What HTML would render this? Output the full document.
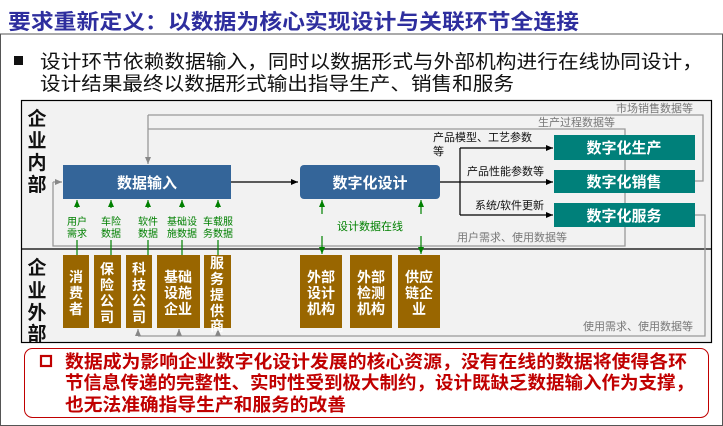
<!DOCTYPE html>
<html><head><meta charset="utf-8"><style>
body{margin:0;background:#fff;}
svg{display:block;font-family:"Liberation Sans","Noto Sans CJK SC",sans-serif;}
</style></head><body>
<svg width="723" height="426" viewBox="0 0 723 426" xmlns="http://www.w3.org/2000/svg">
<defs>
<marker id="ab" markerWidth="8" markerHeight="8" refX="7" refY="4" orient="auto" markerUnits="userSpaceOnUse"><path d="M0,1 L7,4 L0,7 z" fill="#000"/></marker>
<marker id="ag" markerWidth="8" markerHeight="8" refX="7" refY="4" orient="auto" markerUnits="userSpaceOnUse"><path d="M0,1 L7,4 L0,7 z" fill="#008000"/></marker>
<marker id="ay" markerWidth="8" markerHeight="8" refX="7" refY="4" orient="auto" markerUnits="userSpaceOnUse"><path d="M0,1 L7,4 L0,7 z" fill="#888"/></marker>
</defs>
<rect x="0.5" y="34" width="722" height="391.5" fill="none" stroke="#555" stroke-width="1"/>
<text x="8" y="29" font-size="21" font-weight="bold" fill="#2e2e9e" textLength="571" lengthAdjust="spacingAndGlyphs">要求重新定义：以数据为核心实现设计与关联环节全连接</text>
<rect x="14" y="56" width="9" height="9" fill="#111"/>
<text x="40" y="68" font-size="19" fill="#111" textLength="663" lengthAdjust="spacingAndGlyphs">设计环节依赖数据输入，同时以数据形式与外部机构进行在线协同设计，</text>
<text x="40" y="90" font-size="19" fill="#111" textLength="474" lengthAdjust="spacingAndGlyphs">设计结果最终以数据形式输出指导生产、销售和服务</text>

<rect x="21.5" y="100.5" width="690" height="242" fill="#f2f2f2" stroke="#000" stroke-width="1.2"/>
<line x1="21" y1="249" x2="711" y2="249" stroke="#000" stroke-width="1.2"/>
<g font-size="19" font-weight="bold" fill="#111" text-anchor="middle">
<text x="37" y="125">企</text><text x="37" y="147">业</text><text x="37" y="169">内</text><text x="37" y="191">部</text>
<text x="37" y="274">企</text><text x="37" y="297">业</text><text x="37" y="319">外</text><text x="37" y="340">部</text>
</g>

<g stroke="#999" stroke-width="1.3" fill="none">
<polyline points="695,181 703,181 703,115 148,115"/>
<line x1="148" y1="115" x2="148" y2="164" marker-end="url(#ay)"/>
<polyline points="148,129 625,129 625,246 53,246 53,182"/>
<line x1="53" y1="182" x2="62" y2="182" marker-end="url(#ay)"/>
<polyline points="695,215 705,215 705,336 138,336"/>
<line x1="138" y1="336" x2="138" y2="329" marker-end="url(#ay)"/>
<line x1="179" y1="336" x2="179" y2="329" marker-end="url(#ay)"/>
<line x1="218" y1="336" x2="218" y2="329" marker-end="url(#ay)"/>
</g>
<g font-size="11" fill="#777">
<text x="693" y="112" text-anchor="end">市场销售数据等</text>
<text x="615" y="126" text-anchor="end">生产过程数据等</text>
<text x="457" y="241">用户需求、使用数据等</text>
<text x="693" y="330" text-anchor="end">使用需求、使用数据等</text>
</g>

<rect x="63" y="165" width="168" height="34" fill="#346599"/>
<text x="147" y="188" font-size="15" font-weight="bold" fill="#fff" text-anchor="middle">数据输入</text>
<rect x="300" y="165" width="140" height="34" rx="4" fill="#346599"/>
<text x="370" y="188" font-size="15" font-weight="bold" fill="#fff" text-anchor="middle">数字化设计</text>
<line x1="231" y1="182" x2="298" y2="182" stroke="#000" stroke-width="1.2" marker-end="url(#ab)"/>

<g stroke="#000" stroke-width="1.2" fill="none">
<line x1="440" y1="182" x2="553" y2="182" marker-end="url(#ab)"/>
<line x1="460" y1="148" x2="460" y2="215"/>
<line x1="460" y1="148" x2="553" y2="148" marker-end="url(#ab)"/>
<line x1="460" y1="215" x2="553" y2="215" marker-end="url(#ab)"/>
</g>
<g font-size="11" fill="#111">
<text x="433" y="141">产品模型、工艺参数</text>
<text x="433" y="155">等</text>
<text x="467" y="175">产品性能参数等</text>
<text x="475" y="209">系统/软件更新</text>
</g>
<g fill="#00807a">
<rect x="554" y="135" width="141" height="25"/>
<rect x="554" y="170" width="141" height="23"/>
<rect x="554" y="203" width="141" height="24"/>
</g>
<g font-size="15" font-weight="bold" fill="#fff" text-anchor="middle">
<text x="624" y="153">数字化生产</text>
<text x="624" y="187">数字化销售</text>
<text x="624" y="221">数字化服务</text>
</g>

<g stroke="#008000" stroke-width="1.2">
<line x1="77" y1="208" x2="77" y2="200" marker-end="url(#ag)"/><line x1="77" y1="240" x2="77" y2="255"/>
<line x1="111" y1="208" x2="111" y2="200" marker-end="url(#ag)"/><line x1="111" y1="240" x2="111" y2="255"/>
<line x1="148" y1="208" x2="148" y2="200" marker-end="url(#ag)"/><line x1="148" y1="240" x2="148" y2="255"/>
<line x1="182" y1="208" x2="182" y2="200" marker-end="url(#ag)"/><line x1="182" y1="240" x2="182" y2="255"/>
<line x1="218" y1="208" x2="218" y2="200" marker-end="url(#ag)"/><line x1="218" y1="240" x2="218" y2="255"/>
<line x1="322" y1="214" x2="322" y2="200" marker-end="url(#ag)"/><line x1="322" y1="236" x2="322" y2="254" marker-end="url(#ag)"/>
<line x1="421" y1="214" x2="421" y2="200" marker-end="url(#ag)"/><line x1="421" y1="236" x2="421" y2="254" marker-end="url(#ag)"/>
</g>
<g font-size="10" fill="#008000" text-anchor="middle">
<text x="77" y="225">用户</text><text x="77" y="237">需求</text>
<text x="111" y="225">车险</text><text x="111" y="237">数据</text>
<text x="148" y="225">软件</text><text x="148" y="237">数据</text>
<text x="182" y="225">基础设</text><text x="182" y="237">施数据</text>
<text x="218" y="225">车载服</text><text x="218" y="237">务数据</text>
<text x="370" y="230" font-size="11">设计数据在线</text>
</g>

<g fill="#996600">
<rect x="63" y="255" width="26" height="73"/>
<rect x="94" y="255" width="27" height="73"/>
<rect x="126" y="255" width="26" height="73"/>
<rect x="157" y="255" width="43" height="73"/>
<rect x="204" y="255" width="27" height="73"/>
<rect x="300" y="255" width="42" height="73"/>
<rect x="350" y="255" width="42" height="73"/>
<rect x="398" y="255" width="42" height="73"/>
</g>
<g font-size="14" font-weight="bold" fill="#fff" text-anchor="middle">
<text x="76" y="282">消</text><text x="76" y="298">费</text><text x="76" y="314">者</text>
<text x="107" y="274">保</text><text x="107" y="290">险</text><text x="107" y="306">公</text><text x="107" y="322">司</text>
<text x="139" y="274">科</text><text x="139" y="290">技</text><text x="139" y="306">公</text><text x="139" y="322">司</text>
<text x="178" y="282">基础</text><text x="178" y="298">设施</text><text x="178" y="314">企业</text>
<text x="217" y="268">服</text><text x="217" y="284">务</text><text x="217" y="300">提</text><text x="217" y="316">供</text><text x="217" y="331">商</text>
<text x="321" y="282">外部</text><text x="321" y="298">设计</text><text x="321" y="314">机构</text>
<text x="371" y="282">外部</text><text x="371" y="298">检测</text><text x="371" y="314">机构</text>
<text x="419" y="282">供应</text><text x="419" y="298">链企</text><text x="419" y="314">业</text>
</g>

<rect x="24.5" y="348.5" width="684" height="69" rx="8" fill="#fff" stroke="#c00000" stroke-width="1"/>
<rect x="41" y="356" width="10" height="10" fill="none" stroke="#c00000" stroke-width="2.2"/>
<g font-size="18" font-weight="bold" fill="#c00000">
<text x="65" y="368" textLength="622" lengthAdjust="spacingAndGlyphs">数据成为影响企业数字化设计发展的核心资源，没有在线的数据将使得各环</text>
<text x="65" y="389" textLength="629" lengthAdjust="spacingAndGlyphs">节信息传递的完整性、实时性受到极大制约，设计既缺乏数据输入作为支撑，</text>
<text x="65" y="411" textLength="281" lengthAdjust="spacingAndGlyphs">也无法准确指导生产和服务的改善</text>
</g>
</svg>
</body></html>
